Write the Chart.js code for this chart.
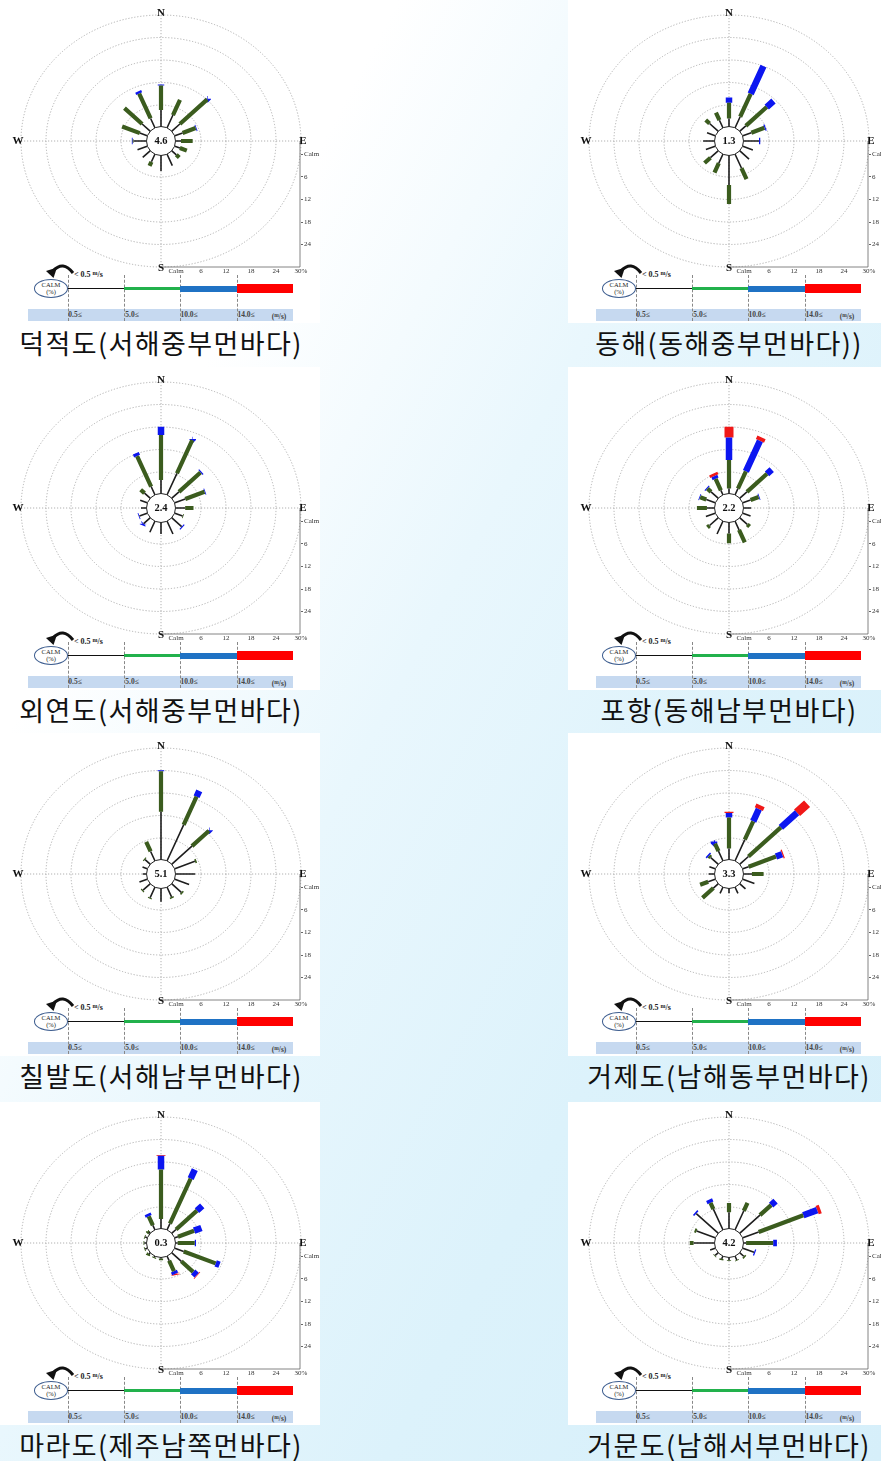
<!DOCTYPE html>
<html>
<head>
<meta charset="utf-8">
<script src="https://cdn.jsdelivr.net/npm/chart.js@4.4.1/dist/chart.umd.min.js"></script>
<style>
  html, body { margin: 0; padding: 0; }
  body {
    width: 881px; height: 1461px; overflow: hidden; position: relative;
    background: linear-gradient(118deg, #ffffff 0%, #ffffff 24%, #e9f7fd 46%, #dcf2fb 70%, #d6effa 100%);
    font-family: "Liberation Serif", serif;
  }
  .panel { position: absolute; background: #fff; overflow: hidden; width: 320px; height: 323px; }
  .panel canvas { position: absolute; left: 0; top: 0; }
  .strip { position: absolute; left: 28px; top: 309px; width: 265px; height: 12px; background: #c6d9f0; }
  .vline { position: absolute; top: 275px; height: 46px; border-left: 1px dashed #888; width: 0; }
  .bar { position: absolute; }
  .calm { position: absolute; left: 34px; top: 279px; width: 34px; height: 19px; border: 1.5px solid #3d5d8f;
          border-radius: 50%; background: #fff; font-size: 6.5px; line-height: 6.5px; text-align: center;
          box-sizing: border-box; padding-top: 2px; color: #222; }
  .lab { position: absolute; top: 310px; font-size: 7.5px; line-height: 10px; font-weight: bold; color: #444; transform: translateX(-50%); white-space: nowrap; }
  .lt { position: absolute; left: 74px; top: 270px; font-size: 8px; font-weight: bold; color: #222; white-space: nowrap; }
  .caption { position: absolute; width: 320px; height: 34px; line-height: 34px; text-align: center;
             font-family: "Noto Sans CJK KR", sans-serif; font-size: 27px; letter-spacing: 1.4px; color: #111; white-space: nowrap; }
</style>
</head>
<body>
<script>
// direction order: N, NNE, NE, ENE, E, ESE, SE, SSE, S, SSW, SW, WSW, W, WNW, NW, NNW
const DIRECTIONS = ['N','NNE','NE','ENE','E','ESE','SE','SSE','S','SSW','SW','WSW','W','WNW','NW','NNW'];
const SPEED_LABELS = ['0.5≤', '5.0≤', '10.0≤', '14.0≤'];
const RADIAL_TICKS = [0, 6, 12, 18, 24, 30];
const RADIAL_LABELS = ['Calm', '6', '12', '18', '24', '30%'];

const STATIONS = ['덕적도(서해중부먼바다)', '동해(동해중부먼바다))', '외연도(서해중부먼바다)', '포항(동해남부먼바다)',
                  '칠발도(서해남부먼바다)', '거제도(남해동부먼바다)', '마라도(제주남쪽먼바다)', '거문도(남해서부먼바다)'];
const CALM_PCT = [4.6, 1.3, 2.4, 2.2, 5.1, 3.3, 0.3, 4.2];

// frequency (%) per speed class: 0.5-5, 5-10, 10-14, 14+ m/s
const DJ_05 = [4.7, 3.9, 2.8, 2.0, 1.2, 1.3, 1.6, 3.5, 4.4, 2.4, 2.6, 2.5, 3.0, 1.9, 2.8, 2.9];
const DJ_5  = [6.5, 4.4, 9.3, 3.4, 2.8, 1.8, 1.0, 0, 0, 1.2, 0, 0, 0.2, 4.6, 6.0, 7.2];
const DJ_10 = [0.3, 0, 0.2, 0.2, 0, 0, 0, 0, 0, 0, 0, 0, 0.2, 0, 0, 0.6];
const DJ_14 = [0, 0, 0, 0, 0, 0, 0, 0, 0, 0, 0, 0, 0, 0, 0, 0];

const DH_05 = [2.4, 3.4, 2.1, 2.2, 3.6, 2.6, 3.2, 4.2, 8.1, 2.8, 2.7, 2.4, 2.6, 2.1, 3.0, 2.4];
const DH_5  = [4.2, 6.6, 7.1, 3.4, 0, 0, 0, 3.2, 5.1, 2.7, 2.0, 0, 0, 0, 1.3, 2.2];
const DH_10 = [1.4, 8.0, 2.3, 0.3, 0.3, 0, 0, 0, 0, 0, 0, 0, 0, 0, 0, 0];
const DH_14 = [0, 0, 0, 0, 0, 0, 0, 0, 0, 0, 0, 0, 0, 0, 0, 0];

const OY_05 = [3.9, 6.4, 2.5, 2.7, 2.2, 2.0, 3.4, 3.9, 3.3, 3.4, 2.3, 2.0, 1.2, 1.8, 2.0, 2.6];
const OY_5  = [12.0, 9.6, 7.3, 5.0, 2.0, 0.2, 0, 0, 0, 0, 0, 0, 0, 0, 1.3, 8.8];
const OY_10 = [2.2, 0.3, 0.3, 0.2, 0, 0, 0.3, 0, 0, 0, 0.2, 0.2, 0, 0, 0, 0.8];
const OY_14 = [0, 0, 0, 0, 0, 0, 0, 0, 0, 0, 0, 0, 0, 0, 0, 0];

const PH_05 = [1.6, 2.0, 2.5, 2.0, 1.7, 2.0, 2.6, 2.7, 3.2, 3.9, 3.0, 2.4, 1.7, 2.3, 2.5, 1.5];
const PH_5  = [7.6, 5.0, 6.8, 2.1, 0, 0, 0.8, 3.6, 2.6, 0, 0.7, 0, 2.4, 1.6, 1.2, 3.3];
const PH_10 = [6.0, 8.8, 1.6, 0.2, 0, 0, 0, 0, 0, 0, 0, 0, 0, 0.2, 0.3, 0.8];
const PH_14 = [2.9, 1.0, 0, 0, 0, 0, 0, 0, 0, 0, 0, 0, 0, 0, 0, 0.7];

const CB_05 = [13.0, 10.6, 6.9, 5.2, 4.6, 3.7, 3.3, 3.0, 3.8, 3.2, 2.5, 2.0, 0.8, 1.2, 1.8, 2.9];
const CB_5  = [10.8, 8.1, 5.8, 0.4, 0, 0, 0.4, 0.4, 0, 0.3, 0.3, 0, 0, 0, 0.3, 2.8];
const CB_10 = [0.3, 1.7, 0.2, 0, 0, 0, 0, 0, 0, 0, 0, 0, 0, 0, 0, 0];
const CB_14 = [0, 0, 0, 0, 0, 0, 0, 0, 0, 0, 0, 0, 0, 0, 0, 0];

const GJ_05 = [3.2, 6.3, 3.0, 1.5, 1.9, 3.0, 2.0, 2.0, 1.5, 2.0, 1.7, 1.8, 1.3, 1.5, 2.6, 3.0];
const GJ_5  = [8.3, 5.3, 11.0, 7.1, 2.8, 0, 0, 0, 0, 0, 3.7, 2.1, 0, 0, 0.6, 2.2];
const GJ_10 = [1.2, 3.5, 5.5, 1.6, 0, 0, 0, 0, 0, 0, 0, 0, 0, 0, 0.4, 0.6];
const GJ_14 = [0.3, 1.1, 3.4, 0.3, 0, 0, 0, 0, 0, 0, 0, 0, 0, 0, 0, 0];

const MR_05 = [2.8, 2.0, 1.5, 0.8, 0.4, 2.3, 3.3, 1.5, 0.5, 0.5, 0.5, 0.5, 0.4, 0.5, 0.5, 1.5];
const MR_5  = [13.2, 13.0, 7.1, 4.2, 4.1, 8.3, 4.0, 3.0, 0.5, 0.3, 0.3, 0.2, 0.2, 0.2, 0.3, 2.6];
const MR_10 = [3.7, 2.6, 1.8, 1.9, 0.3, 1.0, 1.2, 0.8, 0, 0, 0, 0, 0, 0, 0, 0.7];
const MR_14 = [0.2, 0, 0, 0, 0, 0, 0.2, 0.1, 0, 0, 0, 0, 0, 0, 0, 0];

const GM_05 = [4.6, 5.7, 6.9, 4.1, 0.5, 2.9, 1.4, 1.3, 1.0, 1.0, 1.1, 1.3, 4.9, 4.8, 7.5, 6.2];
const GM_5  = [2.5, 2.3, 3.8, 11.6, 6.5, 0, 0.4, 0.2, 0.2, 0.2, 0.2, 0, 0.9, 0.5, 0, 1.8];
const GM_10 = [0, 0, 1.5, 3.6, 0.9, 0.3, 0, 0, 0, 0, 0, 0, 0, 0, 0.4, 0.9];
const GM_14 = [0, 0, 0, 0.8, 0, 0, 0, 0, 0, 0, 0, 0, 0, 0, 0, 0];

const STATION_CLASSES = [
  [DJ_05, DJ_5, DJ_10, DJ_14], [DH_05, DH_5, DH_10, DH_14],
  [OY_05, OY_5, OY_10, OY_14], [PH_05, PH_5, PH_10, PH_14],
  [CB_05, CB_5, CB_10, CB_14], [GJ_05, GJ_5, GJ_10, GJ_14],
  [MR_05, MR_5, MR_10, MR_14], [GM_05, GM_5, GM_10, GM_14]
];

const CALM_OFFSET = 3.6;          // radius of the calm circle, in % units
const OUTER = 30 + CALM_OFFSET;
const BAR_STYLES = [
  { color: '#1e1e1e', width: 1.6 },
  { color: '#3b5c1e', width: 4.2 },
  { color: '#0c16f0', width: 6.5 },
  { color: '#f01818', width: 9 }
];
const LEGEND_COLORS = ['#111', '#22b14c', '#1f72c4', '#ff0000'];

const ROW_TOP = [0, 367, 733, 1102];
const COL_LEFT = [0, 568];

function segments(classes, k) {
  const pts = [];
  DIRECTIONS.forEach((d, i) => {
    let start = CALM_OFFSET;
    for (let j = 0; j < k; j++) start += classes[j][i];
    const len = classes[k][i];
    if (!len) return;
    const a = i * Math.PI / 8;
    pts.push({ x: start * Math.sin(a), y: start * Math.cos(a) });
    pts.push({ x: (start + len) * Math.sin(a), y: (start + len) * Math.cos(a) });
    pts.push({ x: null, y: null });
  });
  return pts;
}

function roseDecor(calm) {
  return {
    id: 'roseDecor',
    beforeDatasetsDraw(chart) {
      const { ctx, scales: { x, y } } = chart;
      const cx = x.getPixelForValue(0), cy = y.getPixelForValue(0);
      ctx.save();
      ctx.strokeStyle = '#a8a8a8';
      ctx.lineWidth = 0.9;
      ctx.setLineDash([1.2, 1.8]);
      RADIAL_TICKS.slice(1).forEach(v => {
        const rx = x.getPixelForValue(v + CALM_OFFSET) - cx;
        const ry = cy - y.getPixelForValue(v + CALM_OFFSET);
        ctx.beginPath();
        ctx.ellipse(cx, cy, rx, ry, 0, 0, Math.PI * 2);
        ctx.stroke();
      });
      ctx.beginPath();
      ctx.moveTo(x.getPixelForValue(-OUTER), cy); ctx.lineTo(x.getPixelForValue(OUTER), cy);
      ctx.moveTo(cx, y.getPixelForValue(OUTER)); ctx.lineTo(cx, y.getPixelForValue(-OUTER));
      ctx.stroke();
      ctx.setLineDash([]);
      ctx.strokeStyle = '#666';
      ctx.lineWidth = 0.8;
      ctx.beginPath();
      ctx.moveTo(x.right - 1, cy); ctx.lineTo(x.right - 1, y.bottom);
      ctx.lineTo(cx, y.bottom);
      ctx.stroke();
      ctx.restore();
    },
    afterDatasetsDraw(chart) {
      const { ctx, scales: { x, y } } = chart;
      const cx = x.getPixelForValue(0), cy = y.getPixelForValue(0);
      ctx.save();
      ctx.beginPath();
      ctx.arc(cx, cy, 14.5, 0, Math.PI * 2);
      ctx.fillStyle = '#fff';
      ctx.fill();
      ctx.strokeStyle = '#222';
      ctx.lineWidth = 1;
      ctx.stroke();
      ctx.fillStyle = '#111';
      ctx.textAlign = 'center';
      ctx.textBaseline = 'middle';
      ctx.font = 'bold 10.5px "Liberation Serif"';
      ctx.fillText(calm.toFixed(1), cx, cy + 0.5);
      ctx.font = 'bold 11px "Liberation Serif"';
      ctx.fillText('N', cx, y.top - 2);
      ctx.fillText('S', cx, y.bottom + 1);
      ctx.fillText('W', x.left - 3, cy);
      ctx.fillText('E', x.right + 2, cy);
      ctx.restore();
    }
  };
}

STATIONS.forEach((name, s) => {
  const top = ROW_TOP[Math.floor(s / 2)];
  const left = COL_LEFT[s % 2];
  const panel = document.createElement('div');
  panel.className = 'panel';
  panel.style.left = left + 'px';
  panel.style.top = top + 'px';
  panel.style.width = (s % 2 ? 881 - left : 320) + 'px';

  let html = '<div class="strip"></div>';
  [68, 124, 180, 237].forEach(v => { html += `<div class="vline" style="left:${v}px"></div>`; });
  html += `<div class="bar" style="left:66px;top:287.5px;width:58px;height:1.8px;background:${LEGEND_COLORS[0]}"></div>`;
  html += `<div class="bar" style="left:124px;top:286.5px;width:56px;height:3.8px;background:${LEGEND_COLORS[1]}"></div>`;
  html += `<div class="bar" style="left:180px;top:285.5px;width:57px;height:6px;background:${LEGEND_COLORS[2]}"></div>`;
  html += `<div class="bar" style="left:237px;top:284px;width:56px;height:9px;background:${LEGEND_COLORS[3]}"></div>`;
  html += '<div class="calm">CALM<br>(%)</div>';
  html += '<svg style="position:absolute;left:40px;top:262px" width="36" height="22"><path d="M33 11 Q23 -2 13 9" fill="none" stroke="#111" stroke-width="3"/><path d="M6 9 L17 5.5 L13.5 16 Z" fill="#111"/></svg>';
  html += '<div class="lt">&lt; 0.5 <span style="font-size:6px;vertical-align:2px">m</span>/s</div>';
  [75, 132, 189, 246].forEach((v, i) => { html += `<div class="lab" style="left:${v}px">${SPEED_LABELS[i]}</div>`; });
  html += '<div class="lab" style="left:279px">(<span style="font-size:5.5px;vertical-align:2px">m</span>/s)</div>';
  panel.innerHTML = html;

  const canvas = document.createElement('canvas');
  canvas.width = 320; canvas.height = 300;
  canvas.style.width = '320px'; canvas.style.height = '300px';
  panel.appendChild(canvas);
  document.body.appendChild(panel);

  const cap = document.createElement('div');
  cap.className = 'caption';
  cap.textContent = name;
  cap.style.left = (left + 1) + 'px';
  cap.style.top = (top + 326) + 'px';
  document.body.appendChild(cap);

  const classes = STATION_CLASSES[s];
  new Chart(canvas.getContext('2d'), {
    type: 'line',
    data: {
      datasets: BAR_STYLES.map((st, k) => ({
        label: SPEED_LABELS[k],
        data: segments(classes, k),
        borderColor: st.color,
        borderWidth: st.width,
        borderCapStyle: 'butt',
        borderJoinStyle: 'bevel',
        pointRadius: 0,
        spanGaps: false,
        fill: false,
        tension: 0
      }))
    },
    options: {
      responsive: false,
      animation: false,
      devicePixelRatio: 1,
      layout: { padding: { left: 21, top: 15, right: 0, bottom: 0 } },
      plugins: { legend: { display: false }, tooltip: { enabled: false } },
      scales: {
        x: {
          type: 'linear', min: -OUTER, max: OUTER, position: 'bottom',
          afterBuildTicks: sc => { sc.ticks = RADIAL_TICKS.map(v => ({ value: v + CALM_OFFSET })); },
          afterFit: sc => { sc.height = 33; },
          grid: { drawOnChartArea: false, drawTicks: false },
          border: { display: false },
          ticks: {
            autoSkip: false, maxRotation: 0, padding: 0, color: '#333',
            font: { family: 'Liberation Serif', size: 7 },
            callback: (v, i) => RADIAL_LABELS[i]
          }
        },
        y: {
          type: 'linear', min: -OUTER, max: OUTER, position: 'right',
          afterBuildTicks: sc => { sc.ticks = RADIAL_TICKS.slice(0, 5).map(v => ({ value: -(v + CALM_OFFSET) })); },
          afterFit: sc => { sc.width = 19; },
          grid: { drawOnChartArea: false, drawTicks: true, tickLength: 2, color: '#666' },
          border: { display: false },
          ticks: {
            autoSkip: false, padding: 1, color: '#333', crossAlign: 'near',
            font: { family: 'Liberation Serif', size: 7 },
            callback: (v, i) => RADIAL_LABELS[i]
          }
        }
      }
    },
    plugins: [roseDecor(CALM_PCT[s])]
  });
});
</script>
</body>
</html>
